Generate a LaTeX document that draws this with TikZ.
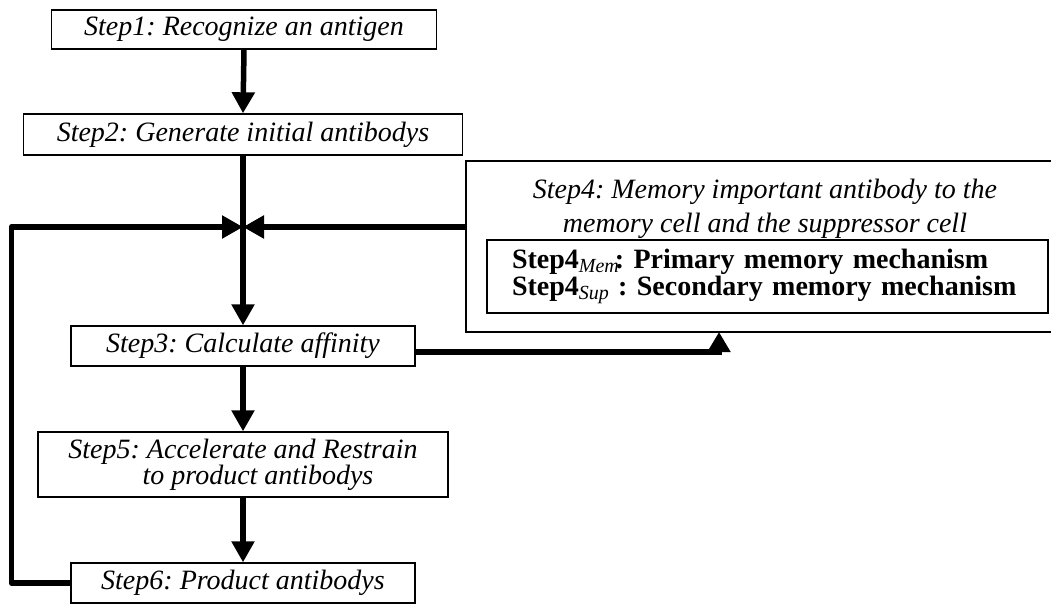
\documentclass[tikz,border=0pt]{standalone}
\usepackage{fontspec}
\setmainfont{Liberation Serif}
\usetikzlibrary{arrows.meta}
\begin{document}
\frenchspacing
\begin{tikzpicture}[x=1pt,y=-1pt,
  stepbox/.style={draw, line width=1.4pt, inner sep=0pt, font=\itshape\fontsize{28}{25}\selectfont, align=center},
  arr/.style={line width=5.5pt, -{Triangle[width=22pt,length=21pt]}},
  link/.style={line width=5.5pt}]
\useasboundingbox (0,0) rectangle (1051,603);
\node[stepbox, minimum width=385, minimum height=39] (s1) at (244,29.5) {Step1: Recognize an antigen};
\node[stepbox, minimum width=439, minimum height=41] (s2) at (243,134.5) {Step2: Generate initial antibodys};
\node[stepbox, minimum width=344, minimum height=40] (s3) at (243,346) {Step3: Calculate affinity};
\node[stepbox, minimum width=410, minimum height=65] (s5) at (243,464.5) {Step5: Accelerate and Restrain\\\hspace*{30pt}to product antibodys};
\node[stepbox, minimum width=344, minimum height=40] (s6) at (243,583) {Step6: Product antibodys};
\node[draw, line width=1.4pt, minimum width=614, minimum height=171, inner sep=0pt] (s4) at (773,246.5) {};
\node[font=\itshape\fontsize{28}{34}\selectfont, align=center, inner sep=0pt] (s4t) at (765,209) {Step4: Memory important antibody to the\\memory cell and the suppressor cell};
\node[draw, line width=1.4pt, minimum height=73, text width=511, inner xsep=25pt, inner ysep=0pt, align=left, font=\bfseries\fontsize{28}{24}\selectfont] (s4in) at (767.5,276.5) {Step4\raisebox{-4pt}{\fontsize{20}{20}\selectfont\mdseries\itshape Mem}\hspace{-4pt}: Primary memory mechanism\\Step4\raisebox{-4pt}{\fontsize{20}{20}\selectfont\mdseries\itshape Sup} : Secondary memory mechanism};
\coordinate (j) at (243,227);
\coordinate (c4) at (719,332);
\draw[arr] (s1.south) -- (s2.north);
\draw[arr] (s2.south) -- (s3.north);
\draw[arr] (s3.south) -- (s5.north);
\draw[arr] (s5.south) -- (s6.north);
\draw[arr, line join=round] (s6.west) -- ++(-59,0) |- (j);
\draw[arr] (s4.west |- j) -- (j);
\draw[arr, -{Triangle[width=22pt,length=20pt]}] ([yshift=-6pt]s3.east) -| (c4);
\end{tikzpicture}
\end{document}
